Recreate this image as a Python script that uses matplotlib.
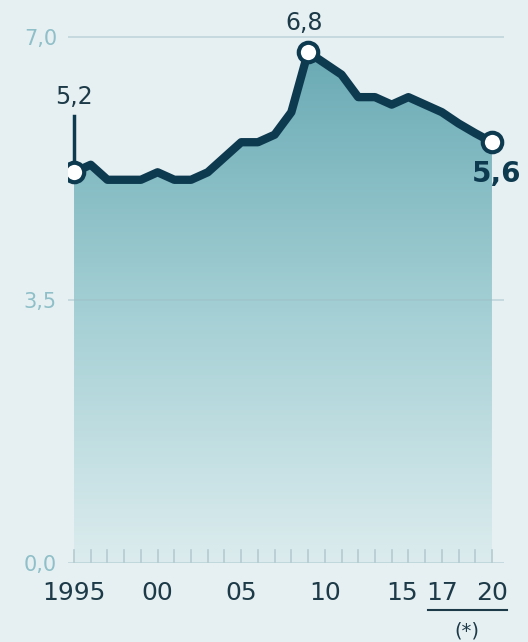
import numpy as np
import matplotlib.pyplot as plt
from matplotlib.colors import LinearSegmentedColormap

years = np.arange(1995, 2021)
values = [5.2, 5.3, 5.1, 5.1, 5.1, 5.2, 5.1, 5.1, 5.2, 5.4,
          5.6, 5.6, 5.7, 6.0, 6.8, 6.65, 6.5, 6.2, 6.2, 6.1,
          6.2, 6.1, 6.0, 5.85, 5.72, 5.6]
ytick_vals = [0.0, 3.5, 7.0]
ytick_labels = ['0,0', '3,5', '7,0']
xtick_pos = [1995, 2000, 2005, 2010, 2014.65, 2017, 2020]
xtick_labels = ['1995', '00', '05', '10', '15', '17', '20']

bg = '#e6f0f2'
dark = '#0e3a50'
fig = plt.figure(figsize=(5.28, 6.42), dpi=100, facecolor=bg)
ax = fig.add_axes([68/528, 79/642, 436/528, 7.3*75.14/642])
ax.set_facecolor(bg)
ax.set_xlim(1994.64, 2020.72)
ax.set_ylim(0, 7.3)
for s in ax.spines.values():
    s.set_visible(False)

# relleno con degradado
cmap = LinearSegmentedColormap.from_list('g', ['#dcecee', '#a3cfd4', '#6aaab4'])
grad = np.linspace(0, 1, 256).reshape(-1, 1)
poly = ax.fill_between(years, values, 0, color='none', lw=0)
img = ax.imshow(grad, extent=[years[0], years[-1], 0, max(values)], origin='lower',
                aspect='auto', cmap=cmap, zorder=1)
img.set_clip_path(poly.get_paths()[0], transform=ax.transData)

# rejilla
for v in ytick_vals:
    ax.axhline(v, color='#9fbfc7', lw=1.2, alpha=0.55, zorder=2)
ax.set_yticks(ytick_vals)
ax.set_yticklabels(ytick_labels, color='#8fbfc8', fontsize=15)
ax.tick_params(axis='y', length=0, pad=8)

# marcas de años
for yr in years:
    ax.plot([yr, yr], [0, 0.17], color='#b4cbd1', lw=1.2, zorder=2)
ax.set_xticks(xtick_pos)
ax.set_xticklabels(xtick_labels, color='#1d3a48', fontsize=18)
ax.tick_params(axis='x', length=0, pad=13)

ax.plot(years, values, color=dark, lw=6, solid_joinstyle='round', zorder=4)
ax.plot([years[0], years[0]], [values[0], 5.95], color=dark, lw=2.5, zorder=3)
idx = [0, 14, 25]
ax.plot(years[idx], [values[i] for i in idx], 'o', ms=14, mfc='white', mec=dark,
        mew=3, zorder=5)

ax.text(1995, 6.2, '5,2', ha='center', va='center', fontsize=17, color='#1d3a48')
ax.text(2008.75, 7.18, '6,8', ha='center', va='center', fontsize=17, color='#1d3a48')
ax.text(2020.3, 5.18, '5,6', ha='center', va='center', fontsize=20, color=dark,
        fontweight='bold')

fig.add_artist(plt.Line2D([428/528, 507/528], [1 - 610/642, 1 - 610/642],
                          color='#1d3a48', lw=1.5))
fig.text(467/528, 1 - 631/642, '(*)', ha='center', va='center', fontsize=14,
         color='#1d3a48')

plt.savefig('out.png', dpi=100, facecolor=bg)
